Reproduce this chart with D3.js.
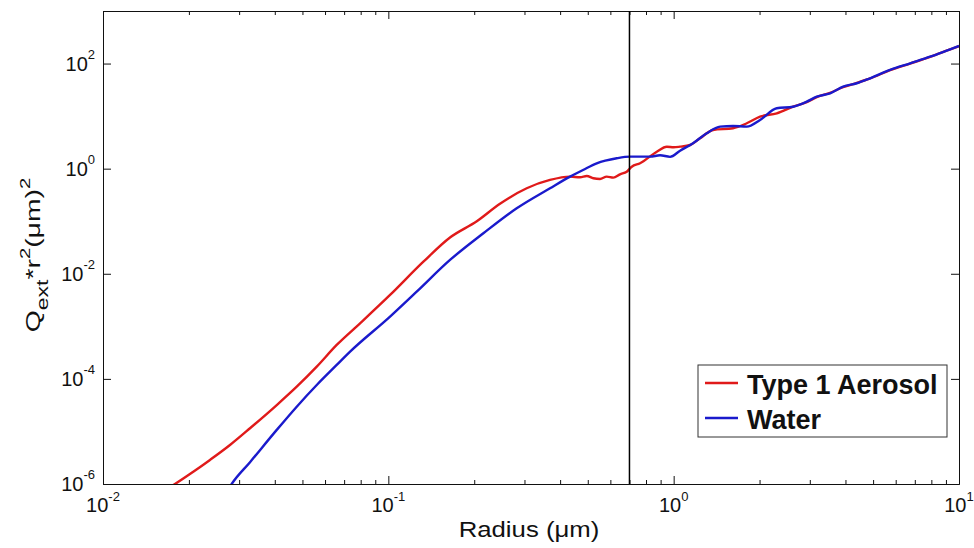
<!DOCTYPE html>
<html>
<head>
<meta charset="utf-8">
<script src="https://cdn.jsdelivr.net/npm/d3@7"></script>
<style>
  body { margin: 0; background: #fff; }
  svg { display: block; font-family: "Liberation Sans", Arial, sans-serif; }
</style>
</head>
<body>
<div id="chart"></div>
<script>
// radius (um) and Qext*r^2 (um^2)
var aerosolRadius = [0.0170, 0.01787, 0.02072, 0.02371, 0.02786, 0.03275, 0.04064, 0.04775, 0.05612, 0.06592,
  0.0796, 0.1014, 0.1327, 0.1645, 0.2042, 0.2462, 0.3055, 0.3687, 0.4335, 0.4698, 0.496, 0.5231, 0.552,
  0.5827, 0.6145, 0.6486, 0.6848, 0.713, 0.7626, 0.8726, 0.946, 1.0, 1.053, 1.142, 1.237, 1.374, 1.615,
  1.804, 2.008, 2.298, 2.621, 2.927, 3.174, 3.534, 3.925, 4.384, 4.88, 5.735, 6.74, 7.92, 9.31, 10];
var aerosolQ = [8.5e-7, 1.0e-6, 1.71e-6, 2.87e-6, 5.52e-6, 1.15e-5, 3.18e-5, 7.11e-5, 1.71e-4, 4.42e-4,
  1.14e-3, 3.95e-3, 0.01698, 0.0490, 0.100, 0.215, 0.424, 0.610, 0.705, 0.686, 0.726, 0.656, 0.637,
  0.705, 0.675, 0.782, 0.877, 1.09, 1.267, 2.106, 2.62, 2.55, 2.62, 2.82, 3.79, 5.45, 5.87,
  7.31, 9.76, 11.3, 15.1, 18.4, 23.0, 27.8, 35.5, 42.8, 52.0, 75, 100, 134, 186, 214];

var waterRadius = [0.0279, 0.02825, 0.03275, 0.04064, 0.04775, 0.05612, 0.06592, 0.07345, 0.1014, 0.1257,
  0.1645, 0.2153, 0.2818, 0.3687, 0.4335, 0.4813, 0.5375, 0.6318, 0.7035, 0.8265, 0.896, 0.9714, 1.053,
  1.169, 1.306, 1.455, 1.615, 1.804, 2.008, 2.298, 2.621, 2.927, 3.174, 3.534, 3.925, 4.384, 4.88, 5.735,
  6.74, 7.92, 9.31, 10];
var waterQ = [9.0e-7, 1.0e-6, 2.6e-6, 1.07e-5, 2.96e-5, 7.65e-5, 1.84e-4, 3.30e-4, 1.53e-3, 4.56e-3,
  0.01832, 0.059, 0.1764, 0.424, 0.705, 0.945, 1.267, 1.578, 1.692, 1.692, 1.80, 1.68, 2.20,
  3.04, 4.72, 6.30, 6.50, 6.30, 8.45, 14.1, 15.1, 18.8, 23.4, 27.2, 36.3, 42.2, 52.5, 75.5,
  101, 135, 187, 216];

var seriesNames = ["Type 1 Aerosol", "Water"];
var seriesColors = ["#e01a1a", "#1a1acc"];
var cutoffRadius = 0.7;

var xTickExps = [-2, -1, 0, 1];
var yTickExps = [-6, -4, -2, 0, 2];

var width = 974, height = 548;
var margin = { top: 11, right: 15, bottom: 64, left: 103 };

var x = d3.scaleLog().domain([1e-2, 1e1]).range([margin.left, width - margin.right]);
var y = d3.scaleLog().domain([1e-6, 1e3]).range([height - margin.bottom, margin.top]);

var svg = d3.select("#chart").append("svg").attr("width", width).attr("height", height);

svg.append("defs").append("clipPath").attr("id", "plotclip")
  .append("rect")
  .attr("x", margin.left).attr("y", margin.top)
  .attr("width", width - margin.left - margin.right)
  .attr("height", height - margin.top - margin.bottom);

// minor ticks on x (2..9 per decade)
var xMinor = [];
xTickExps.slice(0, -1).forEach(function (e) {
  for (var k = 2; k <= 9; k++) xMinor.push(k * Math.pow(10, e));
});
var xMajor = xTickExps.map(function (e) { return Math.pow(10, e); });
var yMajor = yTickExps.map(function (e) { return Math.pow(10, e); });

function styleAxis(g) {
  g.selectAll("path").attr("stroke", "#111").attr("stroke-width", 1);
  g.selectAll("line").attr("stroke", "#111").attr("stroke-width", 1);
  g.selectAll("text").remove();
}

// bottom / top
svg.append("g").attr("transform", "translate(0," + y.range()[0] + ")")
  .call(d3.axisBottom(x).tickValues(xMajor).tickSizeInner(-8).tickSizeOuter(0)).call(styleAxis);
svg.append("g").attr("transform", "translate(0," + y.range()[0] + ")")
  .call(d3.axisBottom(x).tickValues(xMinor).tickSizeInner(-4).tickSizeOuter(0)).call(styleAxis);
svg.append("g").attr("transform", "translate(0," + y.range()[1] + ")")
  .call(d3.axisTop(x).tickValues(xMajor).tickSizeInner(-8).tickSizeOuter(0)).call(styleAxis);
svg.append("g").attr("transform", "translate(0," + y.range()[1] + ")")
  .call(d3.axisTop(x).tickValues(xMinor).tickSizeInner(-4).tickSizeOuter(0)).call(styleAxis);
// left / right
svg.append("g").attr("transform", "translate(" + x.range()[0] + ",0)")
  .call(d3.axisLeft(y).tickValues(yMajor).tickSizeInner(-8).tickSizeOuter(0)).call(styleAxis);
svg.append("g").attr("transform", "translate(" + x.range()[1] + ",0)")
  .call(d3.axisRight(y).tickValues(yMajor).tickSizeInner(-8).tickSizeOuter(0)).call(styleAxis);

// tick labels as 10^n
xTickExps.forEach(function (e) {
  var t = svg.append("text")
    .attr("x", x(Math.pow(10, e))).attr("y", y.range()[0] + 28)
    .attr("text-anchor", "middle").attr("font-size", 20).attr("fill", "#111");
  t.append("tspan").text("10");
  t.append("tspan").attr("dy", -11).attr("font-size", 13).text(e);
});
yTickExps.forEach(function (e) {
  var t = svg.append("text")
    .attr("x", x.range()[0] - 8).attr("y", y(Math.pow(10, e)) + 7)
    .attr("text-anchor", "end").attr("font-size", 20).attr("fill", "#111");
  t.append("tspan").text("10");
  t.append("tspan").attr("dy", -12).attr("font-size", 13).text(e);
});

// curves
var plot = svg.append("g").attr("clip-path", "url(#plotclip)");
var line = d3.line()
  .x(function (d) { return x(d[0]); })
  .y(function (d) { return y(d[1]); })
  .curve(d3.curveMonotoneX);

var series = [
  d3.zip(aerosolRadius, aerosolQ),
  d3.zip(waterRadius, waterQ)
];
series.forEach(function (s, i) {
  plot.append("path").datum(s)
    .attr("d", line)
    .attr("fill", "none")
    .attr("stroke", seriesColors[i])
    .attr("stroke-width", 2.4)
    .attr("stroke-linejoin", "round");
});

// vertical cutoff line
svg.append("line")
  .attr("x1", x(cutoffRadius)).attr("x2", x(cutoffRadius))
  .attr("y1", y.range()[1]).attr("y2", y.range()[0])
  .attr("stroke", "#000").attr("stroke-width", 1.5);

// axis titles
svg.append("text")
  .attr("transform", "translate(529,537) scale(1.12,1)")
  .attr("text-anchor", "middle").attr("font-size", 23).attr("fill", "#111")
  .text("Radius (\u03bcm)");

var yl = svg.append("text")
  .attr("transform", "translate(40,255) rotate(-90) scale(1.35,1)")
  .attr("text-anchor", "middle").attr("font-size", 21).attr("fill", "#111");
yl.append("tspan").text("Q");
yl.append("tspan").attr("dy", 8).attr("font-size", 17).text("ext");
yl.append("tspan").attr("dy", -8).text("*r");
yl.append("tspan").attr("dy", -10).attr("font-size", 15).text("2");
yl.append("tspan").attr("dy", 10).text("(\u03bcm)");
yl.append("tspan").attr("dy", -10).attr("font-size", 15).text("2");

// legend
var lg = svg.append("g").attr("transform", "translate(698,365)");
lg.append("rect").attr("width", 249).attr("height", 72)
  .attr("fill", "#fff").attr("stroke", "#333").attr("stroke-width", 1);
seriesNames.forEach(function (name, i) {
  var yy = 18 + i * 35;
  lg.append("line").attr("x1", 7).attr("x2", 40).attr("y1", yy).attr("y2", yy)
    .attr("stroke", seriesColors[i]).attr("stroke-width", 2.4);
  lg.append("text").attr("x", 49).attr("y", yy + 11)
    .attr("font-size", 27).attr("font-weight", "bold").attr("fill", "#111")
    .text(name);
});
</script>
</body>
</html>
